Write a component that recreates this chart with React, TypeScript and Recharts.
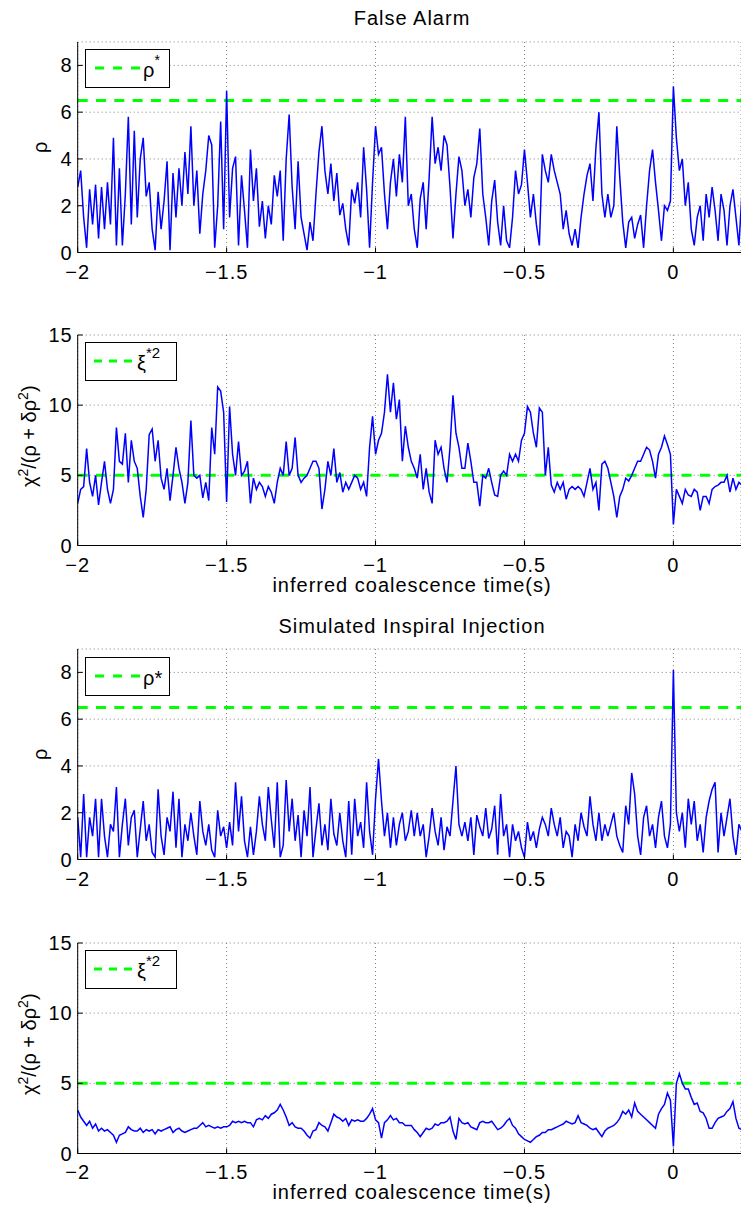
import React from 'react';
import { LineChart, Line, XAxis, YAxis, CartesianGrid, ReferenceLine, Legend } from 'recharts';

// sampling of the traces: one value every 10 ms starting at -2 s
const T0 = -2;
const DT = 0.01;

const X_DOMAIN = [-2, 0.227];
const X_TICKS = [-2, -1.5, -1, -0.5, 0];
const RHO_DOMAIN = [0, 9];
const RHO_TICKS = [0, 2, 4, 6, 8];
const CHI_DOMAIN = [0, 15];
const CHI_TICKS = [0, 5, 10, 15];

const RHO_STAR = 6.5;
const XI_STAR2 = 5;

const falseAlarmRho = [
  2.8, 3.5, 1.5, 0.2, 2.7, 1.2, 2.9, 0.6, 2.8, 1.0,
  3.0, 1.2, 4.9, 0.3, 3.6, 0.3, 2.5, 5.8, 1.2, 5.2,
  1.5, 4.0, 4.9, 2.4, 3.0, 1.0, 0.1, 2.6, 1.0, 2.2,
  3.9, 0.1, 3.4, 1.5, 3.6, 2.0, 4.3, 2.5, 5.4, 2.0,
  3.5, 0.8, 2.5, 3.5, 5.0, 4.6, 0.2, 2.0, 5.6, 1.0,
  6.9, 1.5, 3.6, 4.1, 0.3, 3.3, 1.8, 0.2, 4.4, 2.2,
  3.6, 1.1, 2.2, 0.6, 2.0, 1.2, 3.3, 2.4, 3.5, 0.5,
  4.0, 5.9, 2.8, 1.0, 3.9, 1.5, 0.8, 0.1, 1.3, 0.5,
  2.5, 4.3, 5.4, 3.5, 2.5, 3.8, 2.2, 3.4, 1.6, 2.1,
  1.0, 0.3, 2.7, 2.1, 3.0, 1.5, 4.5, 2.7, 0.2, 3.0,
  5.4, 4.2, 4.5, 2.5, 1.0, 3.0, 4.0, 2.4, 4.2, 3.0,
  5.8, 2.0, 2.5, 1.0, 0.2, 2.3, 3.0, 1.0, 3.2, 5.8,
  3.8, 4.5, 3.5, 5.0, 4.6, 2.8, 0.6, 2.5, 4.1, 3.5,
  2.0, 2.7, 1.5, 3.2, 3.8, 5.3, 2.5, 1.5, 0.3, 2.2,
  3.1, 1.3, 0.3, 2.0, 0.5, 0.2, 1.5, 3.5, 2.5, 2.9,
  4.4, 3.0, 1.5, 2.5, 1.2, 0.3, 4.2, 3.5, 3.0, 4.2,
  3.5, 3.0, 2.5, 1.0, 1.8, 0.8, 0.3, 1.0, 0.2, 1.5,
  2.5, 3.3, 3.8, 2.2, 4.5, 6.0, 2.5, 1.5, 2.5, 1.5,
  2.0, 5.4, 3.2, 1.3, 0.2, 1.3, 1.5, 0.6, 1.2, 1.6,
  0.2, 2.0, 3.5, 4.4, 3.0, 1.8, 0.5, 2.0, 1.8, 2.2,
  7.1, 4.9, 3.5, 4.0, 2.0, 3.0, 1.0, 0.3, 1.5, 2.0,
  0.5, 2.5, 1.5, 2.8, 1.8, 0.5, 2.5, 1.8, 0.3, 2.0,
  2.7, 1.5, 0.3, 2.5,
];

const falseAlarmChi = [
  3.0, 4.0, 4.2, 6.9, 4.5, 3.5, 5.0, 2.9, 4.5, 6.0,
  4.0, 3.0, 4.0, 8.4, 6.0, 5.8, 8.0, 4.5, 7.5, 6.0,
  5.5, 3.5, 2.0, 4.0, 7.9, 8.3, 6.0, 7.5, 4.8, 4.0,
  5.5, 3.2, 5.0, 7.0, 5.5, 4.5, 3.0, 4.5, 8.9, 5.0,
  4.8, 5.0, 3.4, 4.5, 3.2, 8.4, 6.5, 11.3, 11.0, 9.5,
  3.1, 9.9, 6.5, 5.0, 7.4, 5.0, 5.3, 6.0, 3.0, 4.8,
  4.0, 4.5, 4.2, 3.5, 4.2, 3.8, 3.0, 4.5, 5.5, 5.0,
  7.4, 5.0, 5.5, 7.7, 5.0, 4.5, 4.8, 5.0, 5.5, 6.0,
  6.0, 5.5, 2.6, 4.0, 6.0, 5.0, 6.9, 4.5, 5.2, 3.8,
  4.5, 4.0, 4.5, 5.0, 4.8, 4.0, 4.5, 3.5, 7.0, 9.2,
  6.5, 7.5, 8.0, 9.5, 12.2, 9.5, 11.6, 9.0, 10.4, 6.0,
  8.5, 7.0, 6.0, 5.5, 4.8, 6.5, 4.0, 5.5, 3.8, 3.0,
  7.5, 6.5, 7.0, 5.5, 4.5, 7.0, 10.7, 8.0, 7.0, 5.5,
  5.5, 7.3, 6.0, 4.5, 4.5, 2.8, 5.0, 4.8, 5.5, 4.5,
  3.6, 3.5, 5.0, 5.3, 5.0, 6.5, 6.0, 6.5, 6.0, 7.5,
  8.0, 9.9, 9.5, 8.0, 7.0, 9.8, 9.5, 5.0, 7.0, 4.3,
  3.8, 4.5, 4.0, 4.5, 3.3, 4.0, 4.2, 4.0, 4.2, 4.0,
  3.5, 4.5, 5.5, 4.0, 4.5, 2.5, 5.8, 6.0, 5.5, 4.5,
  3.5, 2.0, 3.5, 4.0, 4.8, 4.6, 5.0, 5.5, 6.0, 6.0,
  6.5, 7.0, 6.8, 6.0, 4.8, 6.5, 7.0, 7.8, 7.2, 6.5,
  1.5, 4.0, 3.5, 3.0, 4.0, 3.6, 3.5, 4.0, 3.8, 2.5,
  3.5, 3.5, 3.0, 4.0, 4.2, 4.3, 4.5, 4.5, 5.0, 3.8,
  4.8, 4.0, 4.5, 4.3,
];

const injectionRho = [
  1.8, 0.1, 2.8, 0.1, 1.8, 1.0, 2.6, 0.1, 2.6, 1.0,
  0.1, 1.5, 1.2, 3.1, 0.1, 1.5, 2.6, 0.6, 1.8, 2.1,
  0.1, 1.3, 2.5, 0.8, 1.5, 0.3, 0.1, 3.0, 1.0, 0.2,
  1.8, 1.2, 2.9, 0.5, 2.6, 0.1, 1.5, 0.8, 2.0, 1.0,
  0.2, 2.5, 1.2, 0.6, 1.5, 0.4, 0.1, 2.1, 1.0, 1.4,
  0.5, 1.6, 0.6, 3.3, 1.2, 2.7, 0.8, 0.1, 1.4, 0.2,
  1.2, 2.7, 1.5, 0.8, 3.1, 1.7, 0.5, 3.3, 0.1, 0.6,
  3.4, 1.2, 2.6, 0.8, 1.9, 0.1, 2.1, 1.0, 3.1, 0.1,
  1.3, 2.4, 0.6, 1.5, 0.4, 2.6, 1.1, 0.6, 2.0, 0.8,
  0.1, 2.5, 0.2, 2.6, 1.0, 1.6, 0.5, 3.3, 1.2, 0.2,
  2.6, 4.3, 2.5, 1.0, 2.0, 0.5, 1.8, 0.6, 1.5, 2.0,
  0.8, 1.2, 2.1, 1.0, 2.0, 1.0, 1.5, 0.1, 1.0, 2.2,
  1.2, 0.6, 1.8, 0.4, 1.4, 1.0, 2.5, 4.0, 1.5, 1.0,
  1.6, 0.8, 1.8, 0.2, 1.9, 1.4, 1.0, 2.2, 0.9, 1.3,
  2.3, 0.2, 2.8, 1.0, 1.5, 0.1, 1.5, 0.8, 1.2, 0.5,
  0.1, 1.6, 0.8, 1.2, 0.5, 1.3, 1.8, 1.5, 1.0, 2.2,
  1.5, 1.0, 1.8, 0.5, 1.2, 1.0, 0.1, 1.5, 0.8, 2.0,
  1.4, 1.0, 2.7, 1.5, 0.8, 2.0, 0.8, 1.5, 1.0, 1.5,
  2.0, 1.0, 0.6, 0.3, 2.3, 1.5, 3.7, 2.8, 1.0, 0.2,
  1.8, 2.3, 1.0, 1.5, 0.5, 1.8, 2.5, 1.0, 0.5, 1.5,
  8.1, 2.0, 1.2, 2.0, 0.5, 2.6, 1.5, 2.5, 0.8, 1.5,
  0.3, 1.8, 2.5, 3.0, 3.3, 0.3, 2.0, 1.0, 1.8, 2.6,
  1.0, 0.2, 1.5, 1.2,
];

const injectionChi = [
  3.1, 2.6, 2.3, 2.0, 2.3, 1.8, 2.1, 1.6, 1.8, 1.6,
  1.7, 1.5, 1.3, 0.8, 1.3, 1.4, 1.5, 1.9, 1.7, 1.6,
  1.6, 1.8, 1.5, 1.7, 1.6, 1.7, 1.4, 1.7, 1.6, 1.7,
  1.8, 1.9, 1.5, 1.7, 1.8, 1.6, 1.5, 1.6, 1.7, 1.8,
  1.8, 2.0, 2.2, 1.9, 2.0, 1.9, 1.8, 1.9, 1.8, 1.9,
  1.9, 2.0, 2.3, 2.2, 2.3, 2.2, 2.3, 2.2, 2.2, 1.9,
  2.4, 2.5, 2.4, 2.7, 2.5, 2.8, 2.9, 3.1, 3.5, 3.1,
  2.6, 2.0, 2.2, 1.9, 1.8, 1.8, 1.6, 1.3, 1.1, 1.6,
  1.7, 2.2, 2.0, 1.9, 1.6, 2.2, 2.8, 2.6, 2.5, 2.3,
  2.5, 2.0, 2.4, 2.3, 2.4, 2.3, 2.3, 2.5, 2.8, 3.2,
  2.4, 2.2, 1.1, 2.2, 2.4, 2.7, 2.4, 2.5, 2.2, 2.2,
  2.0, 2.0, 2.0, 1.7, 1.5, 1.2, 1.5, 1.8, 1.7, 1.8,
  2.1, 2.0, 2.2, 2.2, 2.3, 2.6, 1.6, 1.0, 2.5, 2.2,
  2.1, 2.2, 1.9, 1.8, 1.7, 2.2, 2.3, 2.2, 2.2, 2.3,
  2.0, 1.7, 1.8, 2.0, 2.3, 2.5, 2.0, 1.8, 1.4, 1.2,
  1.0, 0.9, 0.8, 1.0, 1.2, 1.3, 1.5, 1.5, 1.7, 1.7,
  1.8, 1.9, 2.0, 2.1, 2.3, 2.2, 2.1, 2.2, 2.7, 2.2,
  2.1, 2.0, 1.8, 1.7, 1.8, 1.5, 1.2, 1.6, 1.8, 1.9,
  2.0, 2.2, 2.5, 3.0, 2.8, 3.1, 2.6, 3.6, 3.0, 2.8,
  2.6, 2.4, 2.2, 2.0, 1.8, 2.8, 3.2, 3.5, 4.3, 3.8,
  0.5, 5.0, 5.7, 5.0, 4.6, 4.6, 4.0, 3.5, 3.6, 3.0,
  2.9, 2.5, 1.8, 1.8, 2.2, 2.5, 2.6, 2.7, 3.0, 3.2,
  3.7, 2.5, 1.8, 1.7,
];

const FONT = '"Liberation Sans", Arial, Helvetica, sans-serif';
const BLUE = '#0000ff';
const GREEN = '#00ff00';
const TOP_PAD = 10;
const PLOT_H = 210.5;
const AXIS_H = 50;
const Y_AXIS_W = 77.7;

const toRows = (vals: number[]) =>
  vals.map((v, i) => ({ t: Math.round((T0 + i * DT) * 1000) / 1000, v }));

const fmt = (v: number) => (v < 0 ? '\u2212' + Math.abs(v) : String(v));
const tickStyle = { fill: '#000', fontSize: 20, fontFamily: FONT, letterSpacing: 1 };

function RhoLegend({ inlineStar }: { inlineStar: boolean }) {
  return (
    <div style={{ width: 85, height: 39, border: '1px solid #000', background: '#fff', boxSizing: 'border-box' }}>
      <svg width={83} height={37} style={{ display: 'block' }}>
        <line x1={9} x2={55} y1={18} y2={18} stroke={GREEN} strokeWidth={3} strokeDasharray="9 9" />
        <text x={57} y={27} fontSize={20} fontFamily={FONT}>
          ρ
          {inlineStar ? (
            <tspan>*</tspan>
          ) : (
            <tspan dy={-12} fontSize={14}>*</tspan>
          )}
        </text>
      </svg>
    </div>
  );
}

function XiLegend() {
  return (
    <div style={{ width: 92, height: 39, border: '1px solid #000', background: '#fff', boxSizing: 'border-box' }}>
      <svg width={90} height={37} style={{ display: 'block' }}>
        <line x1={8} x2={50} y1={18} y2={18} stroke={GREEN} strokeWidth={3} strokeDasharray="8 7" />
        <text x={51} y={27} fontSize={20} fontFamily={FONT}>
          ξ
          <tspan dy={-12} fontSize={15}>*2</tspan>
        </text>
      </svg>
    </div>
  );
}

const rhoLabel = () => (
  <text
    transform={`translate(46.5, ${TOP_PAD + PLOT_H / 2}) rotate(-90)`}
    textAnchor="middle"
    fontSize={20}
    fontFamily={FONT}
    fill="#000"
  >
    ρ
  </text>
);

const chiLabel = () => (
  <text
    transform={`translate(35.5, ${TOP_PAD + PLOT_H / 2 - 4}) rotate(-90)`}
    textAnchor="middle"
    fontSize={20}
    fontFamily={FONT}
    fill="#000"
  >
    χ
    <tspan dy={-8} fontSize={14}>2</tspan>
    <tspan dy={8}>/(ρ + δρ</tspan>
    <tspan dy={-8} fontSize={14}>2</tspan>
    <tspan dy={8}>)</tspan>
  </text>
);

interface PanelProps {
  top: number;
  values: number[];
  yDomain: number[];
  yTicks: number[];
  threshold: number;
  yLabel: () => React.ReactElement;
  legend: React.ReactElement;
  tickGap: number;
}

function Panel({ top, values, yDomain, yTicks, threshold, yLabel, legend, tickGap }: PanelProps) {
  const data = toRows(values);
  return (
    <div style={{ position: 'absolute', left: 0, top: top - TOP_PAD }}>
      <LineChart
        width={741}
        height={TOP_PAD + PLOT_H + AXIS_H}
        data={data}
        margin={{ top: TOP_PAD, right: 0, bottom: 0, left: 0 }}
      >
        <CartesianGrid stroke="#808080" strokeDasharray="1 3" />
        <XAxis
          dataKey="t"
          type="number"
          domain={X_DOMAIN}
          ticks={X_TICKS}
          interval={0}
          allowDataOverflow
          height={AXIS_H}
          axisLine={{ stroke: '#000' }}
          tickLine={{ stroke: '#000' }}
          tickSize={-5}
          tickMargin={tickGap}
          tick={tickStyle}
          tickFormatter={fmt}
        />
        <XAxis
          xAxisId="top"
          orientation="top"
          type="number"
          domain={X_DOMAIN}
          ticks={X_TICKS}
          interval={0}
          allowDataOverflow
          height={0}
          axisLine={{ stroke: '#000' }}
          tickLine={{ stroke: '#000' }}
          tickSize={-5}
          tickFormatter={() => ''}
        />
        <YAxis
          type="number"
          domain={yDomain}
          ticks={yTicks}
          interval={0}
          allowDataOverflow
          width={Y_AXIS_W}
          axisLine={{ stroke: '#000' }}
          tickLine={{ stroke: '#000' }}
          tickSize={-5}
          tickMargin={10}
          tick={tickStyle}
          label={yLabel}
        />
        <YAxis
          yAxisId="right"
          orientation="right"
          type="number"
          domain={yDomain}
          ticks={yTicks}
          interval={0}
          allowDataOverflow
          width={0}
          axisLine={{ stroke: '#000' }}
          tickLine={{ stroke: '#000' }}
          tickSize={-5}
          tickFormatter={() => ''}
        />
        <ReferenceLine y={threshold} stroke={GREEN} strokeWidth={3} strokeDasharray="10 8.3" />
        <Line
          type="linear"
          dataKey="v"
          stroke={BLUE}
          strokeWidth={1.5}
          dot={false}
          isAnimationActive={false}
        />
        <Legend
          layout="horizontal"
          verticalAlign="middle"
          align="center"
          content={() => legend}
          wrapperStyle={{ position: 'absolute', left: 84.5, top: TOP_PAD + 7.3, width: 'auto', height: 'auto' }}
        />
      </LineChart>
    </div>
  );
}

const textStyle: React.CSSProperties = {
  position: 'absolute',
  transform: 'translateX(-50%)',
  whiteSpace: 'nowrap',
  fontFamily: FONT,
  fontSize: 20,
  lineHeight: '20px',
  letterSpacing: 1,
  color: '#000',
};

export default function App() {
  return (
    <div style={{ position: 'absolute', left: 0, top: 0, width: 741, height: 1207, background: '#fff' }}>
      <div style={{ ...textStyle, left: 412, top: 8 }}>False Alarm</div>
      <Panel
        top={42}
        values={falseAlarmRho}
        yDomain={RHO_DOMAIN}
        yTicks={RHO_TICKS}
        threshold={RHO_STAR}
        yLabel={rhoLabel}
        legend={<RhoLegend inlineStar={false} />}
        tickGap={17}
      />
      <Panel
        top={335}
        values={falseAlarmChi}
        yDomain={CHI_DOMAIN}
        yTicks={CHI_TICKS}
        threshold={XI_STAR2}
        yLabel={chiLabel}
        legend={<XiLegend />}
        tickGap={17}
      />
      <div style={{ ...textStyle, left: 412, top: 575 }}>inferred coalescence time(s)</div>
      <div style={{ ...textStyle, left: 412, top: 615.5 }}>Simulated Inspiral Injection</div>
      <Panel
        top={649.3}
        values={injectionRho}
        yDomain={RHO_DOMAIN}
        yTicks={RHO_TICKS}
        threshold={RHO_STAR}
        yLabel={rhoLabel}
        legend={<RhoLegend inlineStar={true} />}
        tickGap={17}
      />
      <Panel
        top={942.7}
        values={injectionChi}
        yDomain={CHI_DOMAIN}
        yTicks={CHI_TICKS}
        threshold={XI_STAR2}
        yLabel={chiLabel}
        legend={<XiLegend />}
        tickGap={16.5}
      />
      <div style={{ ...textStyle, left: 412, top: 1181.5 }}>inferred coalescence time(s)</div>
    </div>
  );
}
